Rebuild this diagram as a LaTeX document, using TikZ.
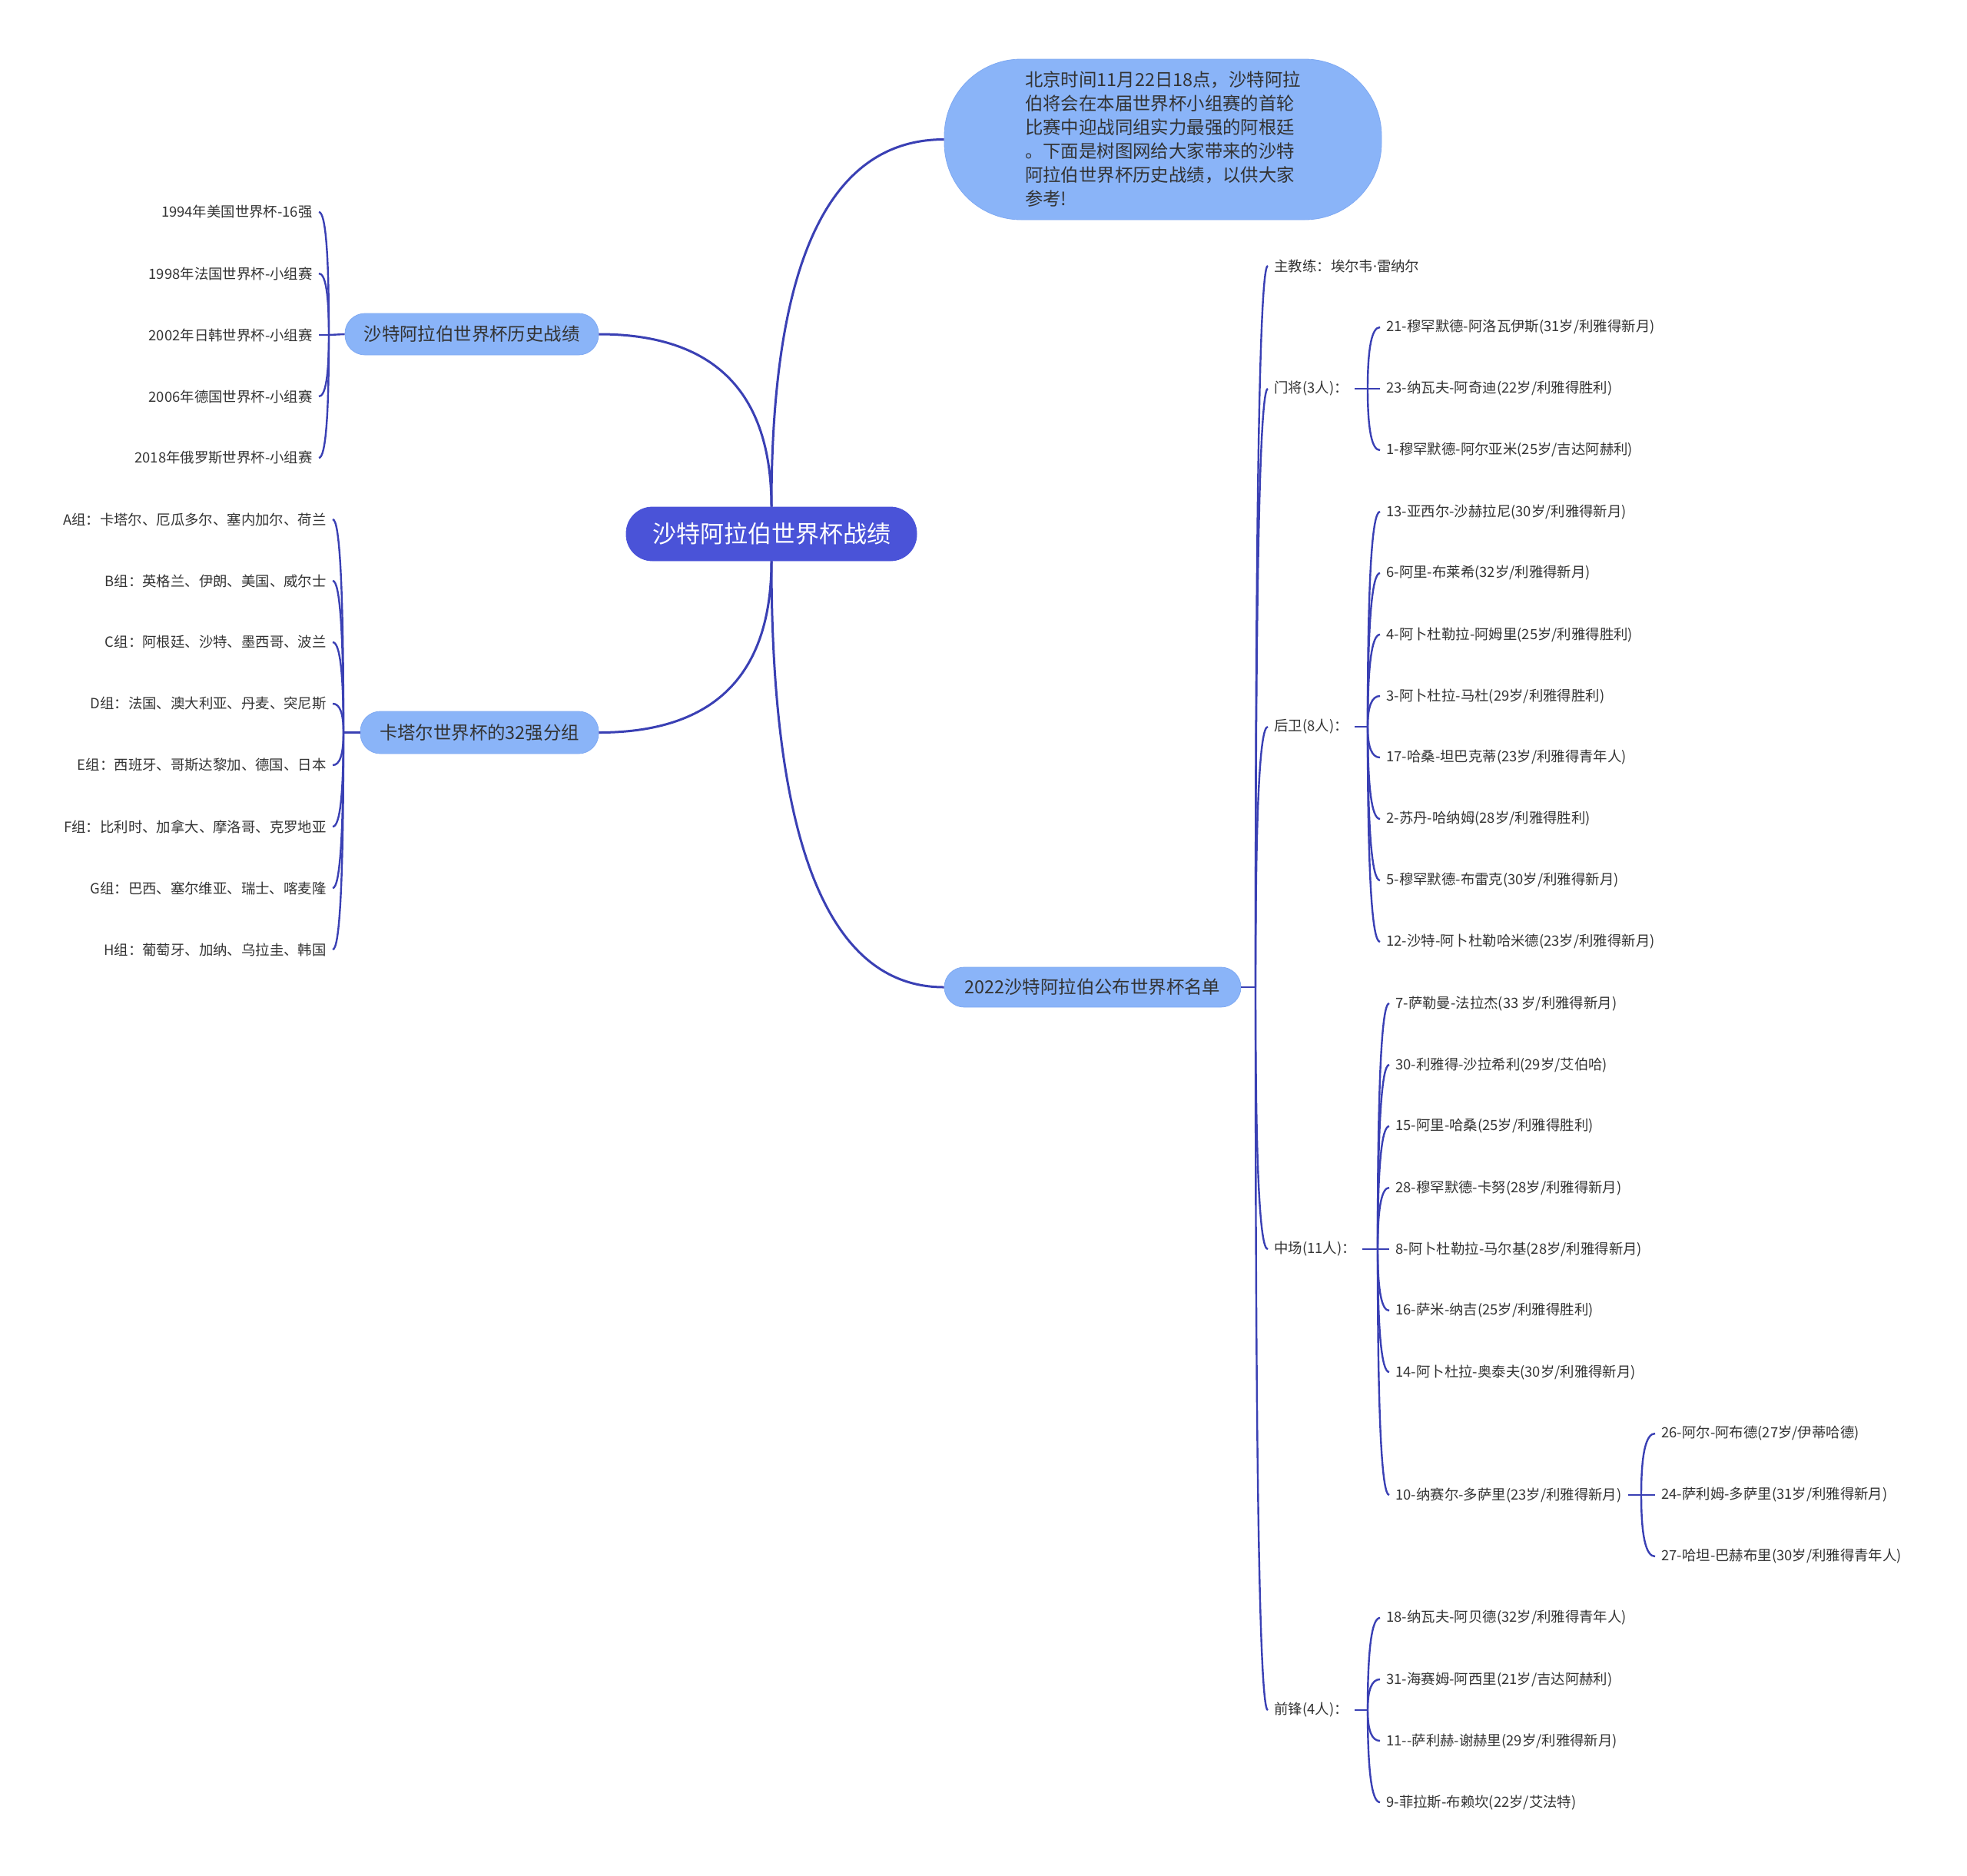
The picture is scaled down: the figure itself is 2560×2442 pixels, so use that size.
\documentclass[tikz,border=0pt]{standalone}
\usepackage{fontspec}
\usetikzlibrary{calc}
\setmainfont{Noto Sans CJK SC}
\newfontfamily\latinsans{Noto Sans}
\definecolor{lineblue}{HTML}{3A40B4}
\definecolor{pillc}{HTML}{8AB4F8}
\definecolor{pilledge}{HTML}{7FA9F2}
\definecolor{rootc}{HTML}{4A53D8}
\definecolor{txt}{HTML}{333333}
\begin{document}
\begin{tikzpicture}[x=0.5pt,y=-0.5pt,
  conn/.style={draw=lineblue,line width=1.2pt},
  mainconn/.style={draw=lineblue,line width=1.5pt},
  qcurve/.style={to path={.. controls ($(\tikztostart)!0.6667!(\tikztostart |- \tikztotarget)$) and ($(\tikztotarget)!0.6667!(\tikztostart |- \tikztotarget)$) .. (\tikztotarget)}},
  leaffont/.style={font=\fontsize{9.2}{11}\selectfont,text=txt},
  leafL/.style={leaffont,anchor=east,inner xsep=4pt,inner ysep=0pt},
  leafR/.style={leaffont,anchor=west,inner xsep=4pt,inner ysep=0pt},
  pillnode/.style={rectangle,rounded corners=13pt,fill=pillc,draw=pilledge,line width=0.4pt,
    minimum height=27pt,inner sep=0pt,font=\fontsize{11.7}{14}\selectfont,text=txt},
]
\useasboundingbox (0,0) rectangle (2560,2442);

% ---------- main nodes ----------
\node[pillnode,fill=rootc,draw=rootc,text=white,minimum width=189pt,minimum height=35pt,
  rounded corners=17pt,font=\fontsize{15.5}{18}\selectfont] (root) at (1004,695) {沙特阿拉伯世界杯战绩};

\node[pillnode,minimum width=284.5pt,minimum height=104.5pt,rounded corners=50pt,align=left,
  font=\fontsize{11.7}{15.5}\selectfont] (desc) at (1513.5,181.5)
  {北京时间11月22日18点，沙特阿拉\\伯将会在本届世界杯小组赛的首轮\\比赛中迎战同组实力最强的阿根廷\\。下面是树图网给大家带来的沙特\\阿拉伯世界杯历史战绩，以供大家\\参考!};

\node[pillnode,minimum width=165pt] (hist) at (614,435) {沙特阿拉伯世界杯历史战绩};
\node[pillnode,minimum width=155pt,minimum height=27.5pt] (grp) at (624,953.5) {卡塔尔世界杯的32强分组};
\node[pillnode,minimum width=193pt,minimum height=26pt] (list) at (1422,1285) {2022沙特阿拉伯公布世界杯名单};

\draw[mainconn] (root.north) to[qcurve] (hist.east);
\draw[mainconn] (root.north) to[qcurve] (desc.west);
\draw[mainconn] (root.south) to[qcurve] (grp.east);
\draw[mainconn] (root.south) to[qcurve] (list.west);

% ---------- history ----------
\node[leafL] (h1) at (415,276) {1994年美国世界杯-16强};
\node[leafL] (h2) at (415,356) {1998年法国世界杯-小组赛};
\node[leafL] (h3) at (415,436) {2002年日韩世界杯-小组赛};
\node[leafL] (h4) at (415,516) {2006年德国世界杯-小组赛};
\node[leafL] (h5) at (415,596) {2018年俄罗斯世界杯-小组赛};
\coordinate (sp1) at (428,436);
\draw[conn] (hist.west) -- (sp1);
\foreach \n in {h1,h2,h3,h4,h5} \draw[conn] (sp1) to[qcurve] (\n.east);

% ---------- groups ----------
\node[leafL] (g1) at (433,676) {A组：卡塔尔、厄瓜多尔、塞内加尔、荷兰};
\node[leafL] (g2) at (433,756) {B组：英格兰、伊朗、美国、威尔士};
\node[leafL] (g3) at (433,836) {C组：阿根廷、沙特、墨西哥、波兰};
\node[leafL] (g4) at (433,916) {D组：法国、澳大利亚、丹麦、突尼斯};
\node[leafL] (g5) at (433,996) {E组：西班牙、哥斯达黎加、德国、日本};
\node[leafL] (g6) at (433,1076) {F组：比利时、加拿大、摩洛哥、克罗地亚};
\node[leafL] (g7) at (433,1156) {G组：巴西、塞尔维亚、瑞士、喀麦隆};
\node[leafL] (g8) at (433,1236) {H组：葡萄牙、加纳、乌拉圭、韩国};
\coordinate (sp2) at (447,953.5);
\draw[conn] (grp.west) -- (sp2);
\foreach \n in {g1,g2,g3,g4,g5,g6,g7,g8} \draw[conn] (sp2) to[qcurve] (\n.east);

% ---------- squad ----------
\coordinate (sp3) at (1634,1285);
\draw[conn] (list.east) -- (sp3);
\node[leafR] (coach) at (1650,346) {主教练：埃尔韦{\latinsans ·}雷纳尔};
\node[leafR] (gk) at (1650,506) {门将(3人)：};
\node[leafR] (df) at (1650,946) {后卫(8人)：};
\node[leafR] (mf) at (1650,1626) {中场(11人)：};
\node[leafR] (fw) at (1650,2226) {前锋(4人)：};
\foreach \n in {coach,gk,df,mf,fw} \draw[conn] (sp3) to[qcurve] (\n.west);

% goalkeepers
\coordinate (sp4) at (1780,506);
\draw[conn] (gk.east) -- (sp4);
\node[leafR] (k1) at (1796,426) {21-穆罕默德-阿洛瓦伊斯(31岁/利雅得新月)};
\node[leafR] (k2) at (1796,506) {23-纳瓦夫-阿奇迪(22岁/利雅得胜利)};
\node[leafR] (k3) at (1796,586) {1-穆罕默德-阿尔亚米(25岁/吉达阿赫利)};
\foreach \n in {k1,k2,k3} \draw[conn] (sp4) to[qcurve] (\n.west);

% defenders
\coordinate (sp5) at (1780,946);
\draw[conn] (df.east) -- (sp5);
\node[leafR] (d1) at (1796,666) {13-亚西尔-沙赫拉尼(30岁/利雅得新月)};
\node[leafR] (d2) at (1796,746) {6-阿里-布莱希(32岁/利雅得新月)};
\node[leafR] (d3) at (1796,826) {4-阿卜杜勒拉-阿姆里(25岁/利雅得胜利)};
\node[leafR] (d4) at (1796,906) {3-阿卜杜拉-马杜(29岁/利雅得胜利)};
\node[leafR] (d5) at (1796,986) {17-哈桑-坦巴克蒂(23岁/利雅得青年人)};
\node[leafR] (d6) at (1796,1066) {2-苏丹-哈纳姆(28岁/利雅得胜利)};
\node[leafR] (d7) at (1796,1146) {5-穆罕默德-布雷克(30岁/利雅得新月)};
\node[leafR] (d8) at (1796,1226) {12-沙特-阿卜杜勒哈米德(23岁/利雅得新月)};
\foreach \n in {d1,d2,d3,d4,d5,d6,d7,d8} \draw[conn] (sp5) to[qcurve] (\n.west);

% midfielders
\coordinate (sp6) at (1793,1626);
\draw[conn] (mf.east) -- (sp6);
\node[leafR] (m1) at (1808,1306) {7-萨勒曼-法拉杰(33 岁/利雅得新月)};
\node[leafR] (m2) at (1808,1386) {30-利雅得-沙拉希利(29岁/艾伯哈)};
\node[leafR] (m3) at (1808,1466) {15-阿里-哈桑(25岁/利雅得胜利)};
\node[leafR] (m4) at (1808,1546) {28-穆罕默德-卡努(28岁/利雅得新月)};
\node[leafR] (m5) at (1808,1626) {8-阿卜杜勒拉-马尔基(28岁/利雅得新月)};
\node[leafR] (m6) at (1808,1706) {16-萨米-纳吉(25岁/利雅得胜利)};
\node[leafR] (m7) at (1808,1786) {14-阿卜杜拉-奥泰夫(30岁/利雅得新月)};
\node[leafR] (m8) at (1808,1946) {10-纳赛尔-多萨里(23岁/利雅得新月)};
\foreach \n in {m1,m2,m3,m4,m5,m6,m7,m8} \draw[conn] (sp6) to[qcurve] (\n.west);

\coordinate (sp7) at (2136,1946);
\draw[conn] (m8.east) -- (sp7);
\node[leafR] (s1) at (2154,1866) {26-阿尔-阿布德(27岁/伊蒂哈德)};
\node[leafR] (s2) at (2154,1946) {24-萨利姆-多萨里(31岁/利雅得新月)};
\node[leafR] (s3) at (2154,2026) {27-哈坦-巴赫布里(30岁/利雅得青年人)};
\foreach \n in {s1,s2,s3} \draw[conn] (sp7) to[qcurve] (\n.west);

% forwards
\coordinate (sp8) at (1780,2226);
\draw[conn] (fw.east) -- (sp8);
\node[leafR] (f1) at (1796,2106) {18-纳瓦夫-阿贝德(32岁/利雅得青年人)};
\node[leafR] (f2) at (1796,2186) {31-海赛姆-阿西里(21岁/吉达阿赫利)};
\node[leafR] (f3) at (1796,2266) {11-{}-萨利赫-谢赫里(29岁/利雅得新月)};
\node[leafR] (f4) at (1796,2346) {9-菲拉斯-布赖坎(22岁/艾法特)};
\foreach \n in {f1,f2,f3,f4} \draw[conn] (sp8) to[qcurve] (\n.west);
\end{tikzpicture}
\end{document}
